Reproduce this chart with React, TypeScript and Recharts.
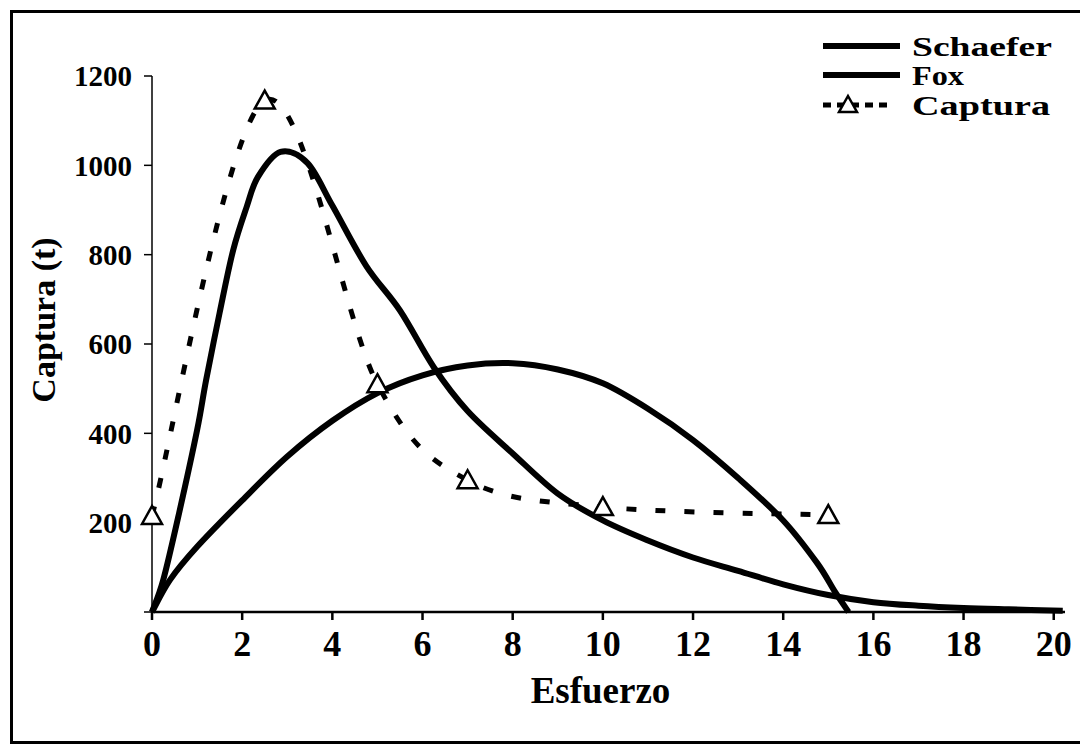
import { LineChart, Line, XAxis, YAxis, Legend } from "recharts"

const effortTicks = [0, 2, 4, 6, 8, 10, 12, 14, 16, 18, 20]
const catchTicks = [0, 200, 400, 600, 800, 1000, 1200]

const schaeferEffort = [0, 0.4, 1, 2, 3, 4, 5, 6, 7, 8, 9, 10, 11, 12, 13, 14, 14.75, 15.15, 15.45]
const schaeferCatch = [0, 72, 146, 250, 348, 428, 490, 530, 552, 557, 543, 512, 455, 385, 300, 205, 110, 45, 0]

const foxEffort = [0, 0.25, 0.6, 1, 1.2, 1.5, 1.8, 2.1, 2.35, 2.85, 3.45, 4, 4.75, 5.5, 6.25, 7, 8, 9, 10, 11, 12, 13, 14, 15, 16, 17, 18, 19, 20.2]
const foxCatch = [0, 72, 221, 407, 519, 670, 810, 907, 974, 1030, 1005, 910, 775, 675, 548, 450, 355, 265, 205, 160, 122, 92, 62, 38, 22, 14, 9, 6, 3]

const capturaEffort = [0, 2.5, 5, 7, 10, 15]
const capturaCatch = [215, 1145, 510, 295, 235, 217]

const legendNames = ["Schaefer", "Fox", "Captura"]

const toPoints = (xs: number[], ys: number[]) => xs.map((x, i) => ({ esfuerzo: x, captura: ys[i] }))

const schaeferData = toPoints(schaeferEffort, schaeferCatch)
const foxData = toPoints(foxEffort, foxCatch)
const capturaData = toPoints(capturaEffort, capturaCatch)

const FONT = '"Liberation Serif", "Times New Roman", serif'

// Excel-style smoothed line (Catmull-Rom through the points)
function smoothCurve(context: any) {
  let pts: [number, number][] = []
  return {
    areaStart() {},
    areaEnd() {},
    lineStart() {
      pts = []
    },
    point(x: number, y: number) {
      pts.push([+x, +y])
    },
    lineEnd() {
      const n = pts.length
      if (!n) return
      context.moveTo(pts[0][0], pts[0][1])
      if (n === 2) {
        context.lineTo(pts[1][0], pts[1][1])
        return
      }
      for (let i = 0; i < n - 1; i++) {
        const p0 = pts[i - 1] || pts[i]
        const p1 = pts[i]
        const p2 = pts[i + 1]
        const p3 = pts[i + 2] || pts[i + 1]
        context.bezierCurveTo(
          p1[0] + (p2[0] - p0[0]) / 6,
          p1[1] + (p2[1] - p0[1]) / 6,
          p2[0] - (p3[0] - p1[0]) / 6,
          p2[1] - (p3[1] - p1[1]) / 6,
          p2[0],
          p2[1]
        )
      }
    },
  }
}

const TriangleDot = (props: any) => {
  const { cx, cy } = props
  if (cx == null || cy == null) return null
  return (
    <path
      d={`M${cx},${cy - 10} L${cx + 10},${cy + 8} L${cx - 10},${cy + 8} Z`}
      fill="#fff"
      stroke="#000"
      strokeWidth={2.5}
    />
  )
}

function LegendBox() {
  const rows = [33, 62, 92]
  const widths = [140, 52, 138]
  return (
    <svg width={270} height={110}>
      {legendNames.map((name, i) => (
        <g key={name}>
          {i < 2 ? (
            <line x1={10} x2={87} y1={rows[i]} y2={rows[i]} stroke="#000" strokeWidth={6} />
          ) : (
            <g>
              <line x1={10} x2={80} y1={rows[i]} y2={rows[i]} stroke="#000" strokeWidth={5} strokeDasharray="8 6" />
              <path
                d={`M35,${rows[i] - 9} L44,${rows[i] + 7} L26,${rows[i] + 7} Z`}
                fill="#fff"
                stroke="#000"
                strokeWidth={2.5}
              />
            </g>
          )}
          <text
            x={99}
            y={rows[i] + 10}
            fontFamily={FONT}
            fontWeight="bold"
            fontSize={27}
            textLength={widths[i]}
            lengthAdjust="spacingAndGlyphs"
            fill="#000"
          >
            {name}
          </text>
        </g>
      ))}
    </svg>
  )
}

export default function App() {
  return (
    <div
      style={{
        position: "relative",
        width: 1076,
        height: 734,
        marginLeft: 2,
        marginTop: 2,
        border: "3px solid #000",
        boxSizing: "border-box",
        background: "#fff",
      }}
    >
      <div style={{ position: "absolute", left: 0, top: 0 }}>
        <LineChart width={1070} height={728} margin={{ top: 63, right: 18, bottom: 89, left: 0 }}>
          <XAxis
            type="number"
            dataKey="esfuerzo"
            domain={[0, 20.25]}
            ticks={effortTicks}
            interval={0}
            height={40}
            tickSize={8}
            tickMargin={10}
            stroke="#000"
            strokeWidth={2.5}
            tick={{ fill: "#000", fontFamily: FONT, fontWeight: "bold", fontSize: 36 }}
            label={(props: any) => {
              const vb = props.viewBox
              return (
                <text
                  x={vb.x + vb.width / 2 - 8}
                  y={vb.y + 91}
                  textAnchor="middle"
                  fontFamily={FONT}
                  fontWeight="bold"
                  fontSize={37}
                  fill="#000"
                >
                  Esfuerzo
                </text>
              )
            }}
          />
          <YAxis
            type="number"
            dataKey="captura"
            domain={[0, 1200]}
            ticks={catchTicks}
            interval={0}
            width={139}
            tickSize={8}
            tickMargin={12}
            stroke="#000"
            strokeWidth={1.5}
            tickFormatter={(v: number) => (v === 0 ? "" : String(v))}
            tick={{ fill: "#000", fontFamily: FONT, fontWeight: "bold", fontSize: 29 }}
            label={(props: any) => {
              const vb = props.viewBox
              const cx = vb.x + 42
              const cy = vb.y + vb.height / 2 - 24
              return (
                <text
                  x={cx}
                  y={cy}
                  transform={`rotate(-90 ${cx} ${cy})`}
                  textAnchor="middle"
                  fontFamily={FONT}
                  fontWeight="bold"
                  fontSize={34}
                  fill="#000"
                >
                  Captura (t)
                </text>
              )
            }}
          />
          <Legend
            layout="vertical"
            align="center"
            verticalAlign="middle"
            content={() => <LegendBox />}
            wrapperStyle={{ left: 800, top: 0, width: 270, height: 110 }}
          />
          <Line
            data={schaeferData}
            dataKey="captura"
            name="Schaefer"
            type={smoothCurve as any}
            stroke="#000"
            strokeWidth={6}
            dot={false}
            activeDot={false}
            isAnimationActive={false}
          />
          <Line
            data={foxData}
            dataKey="captura"
            name="Fox"
            type={smoothCurve as any}
            stroke="#000"
            strokeWidth={6}
            dot={false}
            activeDot={false}
            isAnimationActive={false}
          />
          <Line
            data={capturaData}
            dataKey="captura"
            name="Captura"
            type={smoothCurve as any}
            stroke="#000"
            strokeWidth={5}
            strokeDasharray="10 19"
            dot={<TriangleDot />}
            activeDot={false}
            isAnimationActive={false}
          />
        </LineChart>
      </div>
    </div>
  )
}
